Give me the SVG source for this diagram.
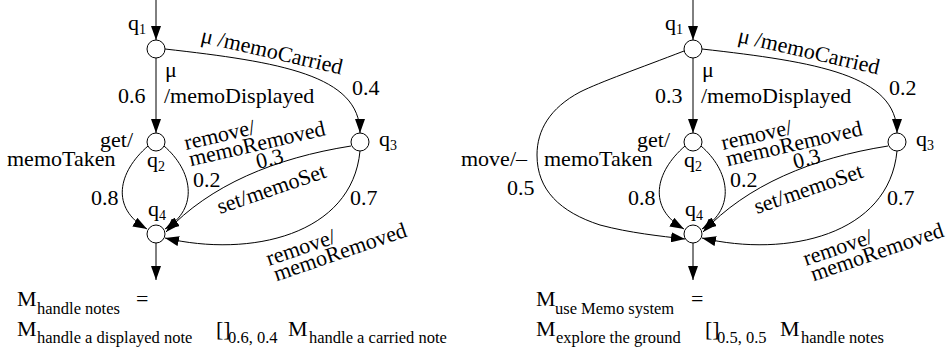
<svg xmlns="http://www.w3.org/2000/svg" width="948" height="356" viewBox="0 0 948 356" font-family="'Liberation Serif', 'Times New Roman', Times, serif">
  <style>
    text { font-family: "Liberation Serif", "Times New Roman", Times, serif; fill: #000; }
    .lbl { font-size: 22px; }
    .sub { font-size: 14px; }
    .big { font-size: 22px; }
    .fsub { font-size: 16.5px; }
    .state { fill: #fff; stroke: #000; stroke-width: 1; }
    .edge { fill: none; stroke: #000; stroke-width: 1; marker-end: url(#ah); }
  </style>
  <defs>
    <marker id="ah" markerWidth="14" markerHeight="10" refX="14" refY="5" orient="auto" markerUnits="userSpaceOnUse">
      <path d="M0,0 L14,5 L0,10 z" fill="#000"/>
    </marker>
  </defs>
  <rect width="948" height="356" fill="#fff"/>

  <!-- Left automaton: handle notes -->
  <g id="handle-notes">
    <g id="edges-left">
      <path class="edge" d="M156,0 L156,40"/>
      <path class="edge" d="M156,58 L156,133"/>
      <path class="edge" d="M165,49 C280,62 360,75 360,133"/>
      <path class="edge" d="M148,146 C118,172 110,208 147,229"/>
      <path class="edge" d="M164,146 C192,170 200,208 165,229"/>
      <path class="edge" d="M351,146 C275,158 210,185 166,232"/>
      <path class="edge" d="M360,151 C352,235 250,258 165,238"/>
      <path class="edge" d="M156,243 L156,280"/>
    </g>
    <g id="q1-left"><circle class="state" cx="156" cy="49" r="9"/><text class="lbl" x="128" y="30">q<tspan class="sub" dy="4">1</tspan></text></g>
    <g id="q2-left"><circle class="state" cx="156" cy="142" r="9"/><text class="lbl" x="147" y="167">q<tspan class="sub" dy="4">2</tspan></text></g>
    <g id="q3-left"><circle class="state" cx="360" cy="142" r="9"/><text class="lbl" x="379" y="146">q<tspan class="sub" dy="4">3</tspan></text></g>
    <g id="q4-left"><circle class="state" cx="156" cy="234" r="9"/><text class="lbl" x="148" y="216">q<tspan class="sub" dy="4">4</tspan></text></g>
    <g id="labels-left">
      <text class="lbl" transform="translate(200,42) rotate(13)">μ /memoCarried</text>
      <text class="lbl" x="352" y="95">0.4</text>
      <text class="lbl" x="165" y="77">μ</text>
      <text class="lbl" x="164" y="103">/memoDisplayed</text>
      <text class="lbl" x="118" y="103">0.6</text>
      <text class="lbl" x="100" y="147">get/</text>
      <text class="lbl" x="7" y="166">memoTaken</text>
      <text class="lbl" x="91" y="205">0.8</text>
      <g transform="translate(186,150) rotate(-13)"><text class="lbl" x="0" y="0">remove/</text><text class="lbl" x="1" y="17">memoRemoved</text></g>
      <text class="lbl" x="193" y="187">0.2</text>
      <text class="lbl" transform="translate(258,169) rotate(-14)">0.3</text>
      <text class="lbl" transform="translate(220,214) rotate(-19)">set/memoSet</text>
      <text class="lbl" x="350" y="205">0.7</text>
      <g transform="translate(269,266) rotate(-19)"><text class="lbl" x="0" y="0">remove/</text><text class="lbl" x="2" y="17">memoRemoved</text></g>
    </g>
  </g>

  <!-- Right automaton: use Memo system -->
  <g id="use-memo-system" transform="translate(537,0)">
    <g id="edges-right">
      <path class="edge" d="M156,0 L156,40"/>
      <path class="edge" d="M156,58 L156,133"/>
      <path class="edge" d="M165,49 C280,62 360,75 360,133"/>
      <path class="edge" d="M148,146 C118,172 110,208 147,229"/>
      <path class="edge" d="M164,146 C192,170 200,208 165,229"/>
      <path class="edge" d="M351,146 C275,158 210,185 166,232"/>
      <path class="edge" d="M360,151 C352,235 250,258 165,238"/>
      <path class="edge" d="M156,243 L156,280"/>
      <path class="edge" d="M147,51 C103,68 63,82 43,92 C13,108 0,130 0,155 C0,190 23,212 63,225 C93,233 123,236 148,239"/>
    </g>
    <g id="q1-right"><circle class="state" cx="156" cy="49" r="9"/><text class="lbl" x="128" y="30">q<tspan class="sub" dy="4">1</tspan></text></g>
    <g id="q2-right"><circle class="state" cx="156" cy="142" r="9"/><text class="lbl" x="147" y="167">q<tspan class="sub" dy="4">2</tspan></text></g>
    <g id="q3-right"><circle class="state" cx="360" cy="142" r="9"/><text class="lbl" x="379" y="146">q<tspan class="sub" dy="4">3</tspan></text></g>
    <g id="q4-right"><circle class="state" cx="156" cy="234" r="9"/><text class="lbl" x="148" y="216">q<tspan class="sub" dy="4">4</tspan></text></g>
    <g id="labels-right">
      <text class="lbl" transform="translate(200,42) rotate(13)">μ /memoCarried</text>
      <text class="lbl" x="352" y="95">0.2</text>
      <text class="lbl" x="165" y="77">μ</text>
      <text class="lbl" x="164" y="103">/memoDisplayed</text>
      <text class="lbl" x="118" y="103">0.3</text>
      <text class="lbl" x="100" y="147">get/</text>
      <text class="lbl" x="7" y="166">memoTaken</text>
      <text class="lbl" x="91" y="205">0.8</text>
      <g transform="translate(186,150) rotate(-13)"><text class="lbl" x="0" y="0">remove/</text><text class="lbl" x="1" y="17">memoRemoved</text></g>
      <text class="lbl" x="193" y="187">0.2</text>
      <text class="lbl" transform="translate(258,169) rotate(-14)">0.3</text>
      <text class="lbl" transform="translate(220,214) rotate(-19)">set/memoSet</text>
      <text class="lbl" x="350" y="205">0.7</text>
      <g transform="translate(269,266) rotate(-19)"><text class="lbl" x="0" y="0">remove/</text><text class="lbl" x="2" y="17">memoRemoved</text></g>
      <text class="lbl" x="-76" y="166">move/–</text>
      <text class="lbl" x="-30" y="195">0.5</text>
    </g>
  </g>

  <!-- Formulas -->
  <g id="formula-left">
    <text class="big" x="17" y="306">M</text><text class="fsub" x="37" y="314">handle notes</text>
    <text class="lbl" x="136" y="306">=</text>
    <text class="big" x="17" y="336">M</text><text class="fsub" x="37" y="343">handle a displayed note</text>
    <text class="lbl" x="216" y="336">[]</text><text class="fsub" x="228" y="343">0.6, 0.4</text>
    <text class="big" x="288" y="336">M</text><text class="fsub" x="309" y="343">handle a carried note</text>
  </g>
  <g id="formula-right">
    <text class="big" x="536" y="306">M</text><text class="fsub" x="555" y="314">use Memo system</text>
    <text class="lbl" x="691" y="306">=</text>
    <text class="big" x="536" y="336">M</text><text class="fsub" x="556" y="343">explore the ground</text>
    <text class="lbl" x="705" y="336">[]</text><text class="fsub" x="717" y="343">0.5, 0.5</text>
    <text class="big" x="780" y="336">M</text><text class="fsub" x="801" y="343">handle notes</text>
  </g>
</svg>
